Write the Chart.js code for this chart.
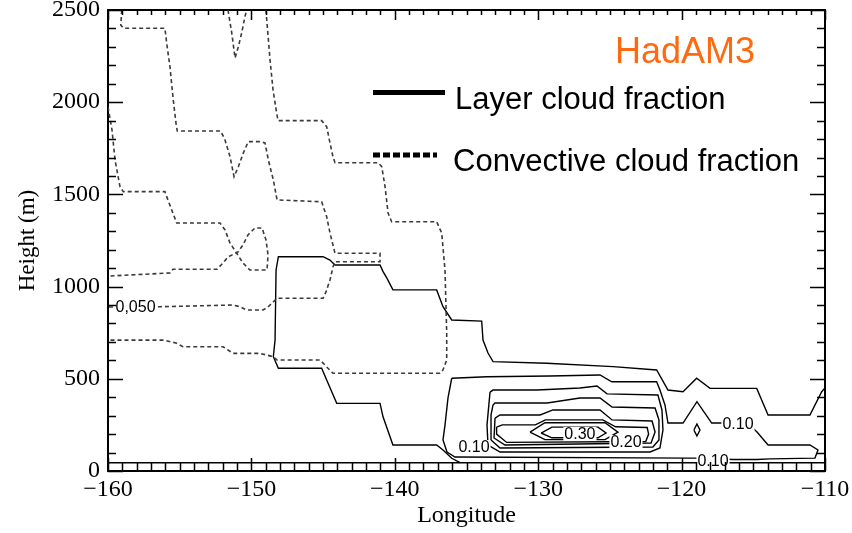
<!DOCTYPE html>
<html>
<head>
<meta charset="utf-8">
<title>HadAM3 cloud fraction section</title>
<script src="https://cdn.jsdelivr.net/npm/chart.js@4.4.1/dist/chart.umd.min.js"></script>
<style>
  html, body { margin: 0; padding: 0; background: #fff; }
</style>
</head>
<body>
<canvas id="chart" width="852" height="533"></canvas>
<script>
// ---- Axis ticks ----
const xTicks = [-160, -150, -140, -130, -120, -110];
const yTicks = [0, 500, 1000, 1500, 2000, 2500];

// ---- Convective cloud fraction contours [longitude, height m] ----
const convA = [[-159.04,2500],[-159.11,2419],[-158.93,2401],[-156.03,2401],[-155.91,2321],[-155.68,2193],[-155.45,2012],[-155.26,1887],[-155.17,1844],[-152.14,1844],[-151.84,1795],[-151.49,1704],[-151.21,1596],[-150.91,1650],[-150.56,1725],[-150.22,1786],[-149.40,1786],[-149.05,1779],[-148.82,1687],[-148.47,1578],[-148.21,1470],[-145.10,1460],[-144.75,1379],[-144.52,1291],[-144.17,1181],[-141.03,1181],[-141.03,1135],[-144.17,1135],[-144.31,1106],[-144.52,1036],[-144.80,971],[-145.00,937],[-148.21,937],[-148.56,911],[-148.84,889],[-149.19,873],[-150.33,873],[-150.79,891],[-151.28,900],[-156.37,891],[-160,889]];
const convB = [[-160,1974],[-159.72,1849],[-159.51,1687],[-159.16,1540],[-158.93,1515],[-156.03,1515],[-155.82,1470],[-155.21,1345],[-152.19,1345],[-151.84,1307],[-151.49,1236],[-151.03,1182],[-150.59,1128],[-150.10,1090],[-148.91,1090],[-148.84,1171],[-148.98,1253],[-149.26,1318],[-149.75,1318],[-150.24,1280],[-150.59,1226],[-150.93,1188],[-151.63,1161],[-151.98,1128],[-152.40,1094],[-155.47,1094],[-155.68,1074],[-160,1057]];
const convC = [[-148.98,2500],[-148.93,2446],[-148.70,2229],[-148.49,2066],[-148.24,1941],[-148.14,1900],[-145.10,1900],[-144.75,1867],[-144.52,1779],[-144.31,1704],[-144.17,1672],[-141.17,1672],[-140.91,1650],[-140.68,1542],[-140.47,1399],[-140.22,1352],[-137.08,1352],[-136.73,1291],[-136.50,1090],[-136.38,748],[-136.38,602],[-136.64,548],[-136.85,530],[-144.31,530],[-144.66,557],[-144.87,575],[-145.22,602],[-148.21,602],[-148.49,620],[-149.40,638],[-151.28,638],[-151.63,656],[-151.98,674],[-154.77,674],[-155.26,694],[-156.16,710],[-160,710]];
const convD = [[-151.63,2500],[-151.37,2375],[-151.14,2240],[-150.91,2301],[-150.68,2375],[-150.45,2464],[-150.33,2500]];

// ---- Layer cloud fraction contours [longitude, height m] ----
const layerA = [[-110,450],[-110.23,430],[-111.05,304],[-113.97,304],[-114.76,448],[-118.02,448],[-118.95,503],[-119.90,430],[-120.95,439],[-121.74,548],[-124.78,566],[-129.41,584],[-133.15,593],[-133.50,640],[-133.85,710],[-133.94,813],[-136.03,819],[-136.64,891],[-137.08,982],[-140.13,982],[-140.56,1047],[-140.82,1081],[-141.03,1117],[-144.17,1117],[-144.52,1144],[-145.00,1162],[-148.12,1162],[-148.28,1090],[-148.35,710],[-148.47,620],[-148.12,557],[-145.10,557],[-144.75,493],[-144.05,367],[-141.03,367],[-140.82,294],[-140.13,141],[-137.08,141],[-136.64,114],[-136.03,69],[-135.45,45]];
const layerB = [[-136.03,503],[-133.57,511],[-129.18,515],[-125.69,521],[-124.87,484],[-121.74,484],[-121.51,439],[-121.16,358],[-120.95,260],[-119.90,260],[-118.93,376],[-117.90,260],[-117.18,260],[-115.20,245],[-114.74,211],[-113.97,141],[-111.05,141],[-110.49,114],[-110.70,70],[-113.84,66],[-114.74,62],[-116.42,62],[-119.07,70],[-119.41,70],[-135.80,76],[-136.36,103],[-136.64,168],[-136.50,249],[-136.29,396],[-136.03,503]];
const layerC = [[-133.36,428],[-133.15,439],[-130.08,439],[-127.09,450],[-125.90,461],[-125.20,418],[-121.65,412],[-121.37,331],[-121.30,222],[-121.51,125],[-122.20,103],[-132.66,103],[-133.50,141],[-133.57,249],[-133.36,428]];
const layerD = [[-133.15,358],[-133.01,369],[-129.38,369],[-127.09,396],[-125.69,396],[-124.85,347],[-121.85,342],[-121.58,277],[-121.58,168],[-122.00,130],[-132.66,125],[-133.29,168],[-133.29,304],[-133.15,358]];
const layerE = [[-133.01,287],[-132.66,304],[-129.87,304],[-128.97,331],[-125.69,331],[-124.85,277],[-122.06,271],[-121.85,211],[-122.13,152],[-132.32,141],[-133.08,179],[-133.01,287]];
const layerF = [[-132.9,238],[-132.5,250],[-130.2,250],[-129.5,277],[-125.5,277],[-124.6,240],[-122.4,236],[-122.3,200],[-122.5,160],[-132.2,155],[-132.9,200],[-132.9,238]];
const layerG = [[-130.57,211],[-129.53,262],[-125.34,262],[-124.44,211],[-125.34,170],[-129.53,170],[-130.57,211]];
const layerH = [[-129.80,206],[-129.04,238],[-125.83,238],[-125.27,206],[-125.83,180],[-129.04,180],[-129.80,206]];
const layerLoop = [[-119.14,222],[-118.93,255],[-118.72,222],[-118.93,190],[-119.14,222]];
const layerLow = [[-160,45],[-110,45]];

// ---- Contour labels ----
const labelText = ['0,050', '0.10', '0.30', '0.20', '0.10', '0.10'];
const labelLon  = [-158.08, -134.48, -127.09, -123.88, -116.07, -117.81];
const labelH    = [889, 130, 201, 157, 255, 54];

const SERIF = '"Liberation Serif", "DejaVu Serif", serif';
const SANS  = '"Liberation Sans", Arial, sans-serif';

function contour(points, dashed) {
  return {
    data: points.map(([x, y]) => ({ x, y })),
    showLine: true,
    pointRadius: 0,
    borderColor: dashed ? '#3a3a3a' : '#000',
    borderWidth: dashed ? 1.6 : 1.4,
    borderDash: dashed ? [4, 3] : [],
    fill: false,
    tension: 0
  };
}

// ticks, contour labels, legend
const decor = {
  id: 'decor',
  afterDatasetsDraw(chart) {
    const { ctx, chartArea: a, scales: { x, y } } = chart;
    ctx.save();

    ctx.font = '16px ' + SANS;
    ctx.textAlign = 'center';
    ctx.textBaseline = 'middle';
    labelText.forEach((t, i) => {
      const px = x.getPixelForValue(labelLon[i]);
      const py = y.getPixelForValue(labelH[i]);
      const w = ctx.measureText(t).width;
      ctx.fillStyle = '#fff';
      ctx.fillRect(px - w / 2 - 1, py - 7, w + 2, 14);
      ctx.fillStyle = '#000';
      ctx.fillText(t, px, py + 1);
    });

    // inward tick marks on all four sides
    ctx.strokeStyle = '#000';
    ctx.lineWidth = 1.5;
    ctx.beginPath();
    for (let v = -160; v <= -110; v++) {
      const p = Math.round(x.getPixelForValue(v)) + 0.5;
      const major = v % 10 === 0;
      ctx.moveTo(p, a.bottom); ctx.lineTo(p, a.bottom - (major ? 13 : 9));
      ctx.moveTo(p, a.top);    ctx.lineTo(p, a.top + (major ? 10 : 5));
    }
    for (let v = 0; v <= 2500; v += 100) {
      const p = Math.round(y.getPixelForValue(v)) + 0.5;
      const major = v % 500 === 0;
      ctx.moveTo(a.left, p);  ctx.lineTo(a.left + (major ? 15 : 8), p);
      ctx.moveTo(a.right, p); ctx.lineTo(a.right - (major ? 15 : 8), p);
    }
    ctx.stroke();

    // legend
    ctx.lineWidth = 5;
    ctx.setLineDash([]);
    ctx.beginPath(); ctx.moveTo(373, 92.5); ctx.lineTo(445, 92.5); ctx.stroke();
    ctx.setLineDash([7, 3]);
    ctx.beginPath(); ctx.moveTo(373, 155); ctx.lineTo(437, 155); ctx.stroke();
    ctx.setLineDash([]);
    ctx.textAlign = 'left';
    ctx.textBaseline = 'alphabetic';
    ctx.fillStyle = '#000';
    ctx.font = '31px ' + SANS;
    ctx.fillText('Layer cloud fraction', 455, 109);
    ctx.fillText('Convective cloud fraction', 453, 171);
    ctx.fillStyle = '#FF6A10';
    ctx.font = '36px ' + SANS;
    ctx.fillText('HadAM3', 615, 63);

    ctx.restore();
  }
};

const tickFont = { family: SERIF, size: 24, weight: 'normal' };

new Chart(document.getElementById('chart'), {
  type: 'scatter',
  data: {
    datasets: [
      contour(convA, true), contour(convB, true), contour(convC, true), contour(convD, true),
      contour(layerA, false), contour(layerB, false), contour(layerC, false), contour(layerD, false),
      contour(layerE, false), contour(layerF, false), contour(layerG, false), contour(layerH, false),
      contour(layerLoop, false), contour(layerLow, false)
    ]
  },
  options: {
    responsive: false,
    devicePixelRatio: 1,
    animation: false,
    layout: { padding: { left: 0, top: 10, right: 27, bottom: 0 } },
    plugins: { legend: { display: false }, tooltip: { enabled: false } },
    scales: {
      x: {
        type: 'linear', position: 'bottom', min: -160, max: -110,
        afterBuildTicks: s => { s.ticks = xTicks.map(v => ({ value: v })); },
        afterFit: s => { s.height = 62; s.paddingLeft = 0; s.paddingRight = 0; },
        grid: { display: false, drawTicks: false },
        border: { display: true, color: '#000', width: 2 },
        ticks: {
          font: tickFont, color: '#000', padding: 4, maxRotation: 0,
          callback: v => (v < 0 ? '\u2212' + Math.abs(v) : String(v))
        },
        title: { display: true, text: 'Longitude', color: '#000', font: tickFont, padding: { top: 0, bottom: 3 } }
      },
      y: {
        type: 'linear', position: 'left', min: 0, max: 2500,
        afterBuildTicks: s => { s.ticks = yTicks.map(v => ({ value: v })); },
        afterFit: s => { s.width = 108; s.paddingTop = 0; s.paddingBottom = 0; },
        grid: { display: false, drawTicks: false },
        border: { display: true, color: '#000', width: 2 },
        ticks: { font: tickFont, color: '#000', padding: 8, callback: v => String(v) },
        title: { display: true, text: 'Height (m)', color: '#000', font: { family: SERIF, size: 23, weight: 'normal' }, padding: { top: 14, bottom: 0 } }
      },
      x2: {
        type: 'linear', position: 'top', min: -160, max: -110,
        afterFit: s => { s.height = 0; },
        grid: { display: false, drawTicks: false },
        border: { display: true, color: '#000', width: 2 },
        ticks: { display: false }
      },
      y2: {
        type: 'linear', position: 'right', min: 0, max: 2500,
        afterFit: s => { s.width = 0; },
        grid: { display: false, drawTicks: false },
        border: { display: true, color: '#000', width: 2 },
        ticks: { display: false }
      }
    }
  },
  plugins: [decor]
});
</script>
</body>
</html>
